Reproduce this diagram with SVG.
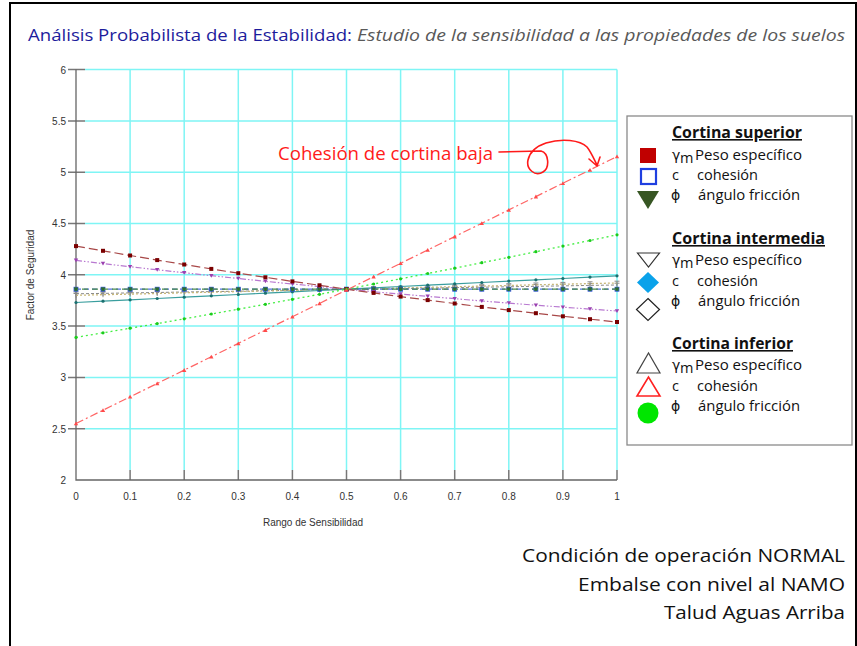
<svg xmlns="http://www.w3.org/2000/svg" width="857" height="646" viewBox="0 0 857 646">
<style>
.grid{stroke:#7ff5f5;stroke-width:1.5;fill:none}
.tick{stroke:#777;stroke-width:1.5}
.ax{stroke:#666;stroke-width:1.3;fill:none}
.tl{font-family:"Liberation Sans",Arial,sans-serif;font-size:10px;fill:#333}
.yl{text-anchor:end}
.xl{text-anchor:middle}
.cal{font-family:"Open Sans","Noto Sans",sans-serif}
.lg{font-family:"Open Sans","Noto Sans",sans-serif;font-size:14.5px;fill:#111}
.lh{font-family:"Open Sans","Noto Sans",sans-serif;font-size:16px;font-weight:bold;fill:#111;text-decoration:underline}
.sym{font-family:"DejaVu Sans","Noto Sans",sans-serif;font-size:14px;fill:#111}
.br{font-family:"Open Sans","Noto Sans",sans-serif;font-size:19px;fill:#111;text-anchor:end}
.s{fill:none}
</style>
<defs>
<marker id="mSqDR" markerWidth="6" markerHeight="6" refX="3" refY="3" markerUnits="userSpaceOnUse"><rect x="1" y="1" width="4" height="4" fill="#7a0000"/></marker>
<marker id="mTriP" markerWidth="6" markerHeight="6" refX="3" refY="3" markerUnits="userSpaceOnUse"><path d="M0.8,1.2 L5.2,1.2 L3,5 Z" fill="#9a40b0"/></marker>
<marker id="mSqB" markerWidth="6" markerHeight="6" refX="3" refY="3" markerUnits="userSpaceOnUse"><rect x="1" y="1" width="4" height="4" fill="#2a7a2a" stroke="#3050e0" stroke-width="0.8"/></marker>
<marker id="mTriG" markerWidth="6" markerHeight="6" refX="3" refY="3" markerUnits="userSpaceOnUse"><path d="M0.8,1.2 L5.2,1.2 L3,5 Z" fill="#2e6a2e"/></marker>
<marker id="mT" markerWidth="8" markerHeight="8" refX="4" refY="4" markerUnits="userSpaceOnUse"><path d="M1.5,2.2 L6.5,2.2 M4,2.2 L4,6.5" stroke="#888" stroke-width="1" fill="none"/></marker>
<marker id="mDotT" markerWidth="6" markerHeight="6" refX="3" refY="3" markerUnits="userSpaceOnUse"><circle cx="3" cy="3" r="1.6" fill="#1a7070"/></marker>
<marker id="mDotG" markerWidth="6" markerHeight="6" refX="3" refY="3" markerUnits="userSpaceOnUse"><circle cx="3" cy="3" r="1.6" fill="#1ccc1c"/></marker>
<marker id="mTriR" markerWidth="6" markerHeight="6" refX="3" refY="3" markerUnits="userSpaceOnUse"><path d="M0.8,4.8 L5.2,4.8 L3,1 Z" fill="#ff4a4a"/></marker>
</defs>
<rect x="0" y="0" width="857" height="646" fill="#fff"/>
<rect x="10" y="3" width="846" height="660" fill="none" stroke="#000" stroke-width="2"/>

<g id="title">
<text x="28" y="41" class="cal" font-size="17" fill="#1c1c9c" textLength="324" lengthAdjust="spacingAndGlyphs">Análisis Probabilista de la Estabilidad:</text>
<text x="357" y="41" class="cal" font-size="17" font-style="italic" fill="#595959" textLength="488" lengthAdjust="spacingAndGlyphs">Estudio de la sensibilidad a las propiedades  de los suelos</text>
</g>

<g id="grid">
<path class="grid" d="M85,69.6H617 M85,120.9H617 M85,172.2H617 M85,223.5H617 M85,274.8H617 M85,326.1H617 M85,377.4H617 M85,428.7H617"/>
<path class="grid" d="M130.1,69.6V470 M184.2,69.6V470 M238.3,69.6V470 M292.4,69.6V470 M346.5,69.6V470 M400.6,69.6V470 M454.7,69.6V470 M508.8,69.6V470 M562.9,69.6V470 M617,69.6V470"/>
</g>

<g id="axes">
<path class="tick" d="M68,69.6H85 M68,120.9H85 M68,172.2H85 M68,223.5H85 M68,274.8H85 M68,326.1H85 M68,377.4H85 M68,428.7H85"/>
<path class="tick" d="M130.1,470V480 M184.2,470V480 M238.3,470V480 M292.4,470V480 M346.5,470V480 M400.6,470V480 M454.7,470V480 M508.8,470V480 M562.9,470V480 M617,470V480"/>
<path class="ax" d="M76,69.6V480H617"/>
<g class="tl yl">
<text x="66" y="73.5">6</text><text x="66" y="124.8">5.5</text><text x="66" y="176.1">5</text><text x="66" y="227.4">4.5</text><text x="66" y="278.7">4</text><text x="66" y="330">3.5</text><text x="66" y="381.3">3</text><text x="66" y="432.6">2.5</text><text x="66" y="484">2</text>
</g>
<g class="tl xl">
<text x="76" y="500">0</text><text x="130.1" y="500">0.1</text><text x="184.2" y="500">0.2</text><text x="238.3" y="500">0.3</text><text x="292.4" y="500">0.4</text><text x="346.5" y="500">0.5</text><text x="400.6" y="500">0.6</text><text x="454.7" y="500">0.7</text><text x="508.8" y="500">0.8</text><text x="562.9" y="500">0.9</text><text x="617" y="500">1</text>
</g>
<text class="tl xl" x="313" y="526" font-size="9.5">Rango de Sensibilidad</text>
<text class="tl xl" x="0" y="0" font-size="9.5" transform="translate(34,275) rotate(-90)">Factor de Seguridad</text>
</g>

<g id="connectors">
<polyline class="s" stroke="#888" stroke-width="1" stroke-dasharray="3,2" marker-start="url(#mT)" marker-mid="url(#mT)" marker-end="url(#mT)" points="76,293.8 103,293.4 130.1,292.9 157.2,292.5 184.2,292 211.3,291.6 238.3,291.2 265.4,290.7 292.4,290.3 319.5,289.8 346.5,289.4 373.6,289 400.6,288.5 427.7,288.1 454.7,287.6 481.8,287.2 508.8,286.8 535.9,286.3 562.9,285.9 590,285.4 617,285"/>
<polyline class="s" stroke="#c8b878" stroke-width="1.3" stroke-dasharray="2,2" marker-start="url(#mT)" marker-mid="url(#mT)" marker-end="url(#mT)" points="76,295.3 103,294.7 130.1,294.1 157.2,293.5 184.2,292.8 211.3,292.2 238.3,291.6 265.4,291 292.4,290.4 319.5,289.8 346.5,289.2 373.6,288.5 400.6,287.9 427.7,287.3 454.7,286.7 481.8,286.1 508.8,285.5 535.9,284.8 562.9,284.2 590,283.6 617,283"/>
<polyline class="s" stroke="#3a9e9e" stroke-width="1.2" marker-start="url(#mDotT)" marker-mid="url(#mDotT)" marker-end="url(#mDotT)" points="76,302.5 103,301.2 130.1,299.8 157.2,298.5 184.2,297.2 211.3,295.8 238.3,294.5 265.4,293.2 292.4,291.8 319.5,290.5 346.5,289.2 373.6,287.8 400.6,286.5 427.7,285.2 454.7,283.8 481.8,282.5 508.8,281.1 535.9,279.8 562.9,278.5 590,277.1 617,275.8"/>
<polyline class="s" stroke="#5070e0" stroke-width="1.2" stroke-dasharray="5,3" marker-start="url(#mSqB)" marker-mid="url(#mSqB)" marker-end="url(#mSqB)" points="76,289.2 103,289.2 130.1,289.2 157.2,289.2 184.2,289.2 211.3,289.2 238.3,289.2 265.4,289.2 292.4,289.2 319.5,289.2 346.5,289.2 373.6,289.2 400.6,289.2 427.7,289.2 454.7,289.2 481.8,289.2 508.8,289.2 535.9,289.2 562.9,289.2 590,289.2 617,289.2"/>
<polyline class="s" stroke="#4a8a4a" stroke-width="1.2" stroke-dasharray="6,4" stroke-dashoffset="4" marker-start="url(#mTriG)" marker-mid="url(#mTriG)" marker-end="url(#mTriG)" points="76,289.2 103,289.2 130.1,289.2 157.2,289.2 184.2,289.2 211.3,289.2 238.3,289.2 265.4,289.2 292.4,289.2 319.5,289.2 346.5,289.2 373.6,289.2 400.6,289.2 427.7,289.2 454.7,289.2 481.8,289.2 508.8,289.2 535.9,289.2 562.9,289.2 590,289.2 617,289.2"/>
<polyline class="s" stroke="#b878d0" stroke-width="1.2" stroke-dasharray="6,2,1.5,2,1.5,2" marker-start="url(#mTriP)" marker-mid="url(#mTriP)" marker-end="url(#mTriP)" points="76,260.4 103,263.6 130.1,266.7 157.2,269.8 184.2,272.7 211.3,275.7 238.3,278.5 265.4,281.3 292.4,284 319.5,286.6 346.5,289.2 373.6,291.7 400.6,294.1 427.7,296.4 454.7,298.7 481.8,301 508.8,303.1 535.9,305.2 562.9,307.2 590,309.1 617,311"/>
<polyline class="s" stroke="#a84848" stroke-width="1.2" stroke-dasharray="9,4" marker-start="url(#mSqDR)" marker-mid="url(#mSqDR)" marker-end="url(#mSqDR)" points="76,246.1 103,250.8 130.1,255.5 157.2,260.1 184.2,264.5 211.3,268.9 238.3,273.2 265.4,277.3 292.4,281.4 319.5,285.3 346.5,289.2 373.6,292.9 400.6,296.6 427.7,300.1 454.7,303.5 481.8,306.9 508.8,310.1 535.9,313.2 562.9,316.3 590,319.2 617,322"/>
<polyline class="s" stroke="#44ee44" stroke-width="1.3" stroke-dasharray="2,3" marker-start="url(#mDotG)" marker-mid="url(#mDotG)" marker-end="url(#mDotG)" points="76,337.4 103,332.8 130.1,328.2 157.2,323.6 184.2,318.8 211.3,314 238.3,309.2 265.4,304.3 292.4,299.3 319.5,294.3 346.5,289.2 373.6,284 400.6,278.8 427.7,273.5 454.7,268.2 481.8,262.7 508.8,257.3 535.9,251.7 562.9,246.1 590,240.5 617,234.8"/>
<polyline class="s" stroke="#ff6464" stroke-width="1.2" stroke-dasharray="8,3,2,3" marker-start="url(#mTriR)" marker-mid="url(#mTriR)" marker-end="url(#mTriR)" points="76,423.5 103,410.2 130.1,396.8 157.2,383.5 184.2,370.1 211.3,356.8 238.3,343.4 265.4,330.1 292.4,316.7 319.5,303.4 346.5,290 373.6,276.7 400.6,263.3 427.7,250 454.7,236.6 481.8,223.3 508.8,209.9 535.9,196.6 562.9,183.2 590,169.9 617,156.5"/>
</g>

<g id="annotation">
<text x="278" y="160" class="cal" font-size="18.5" fill="#ff1a1a" textLength="215" lengthAdjust="spacingAndGlyphs">Cohesión de cortina baja</text>
<path d="M499,152 L541,151 C549,153 550,168 543,172 C535,177 526,169 528,160 C530,151 537,146 546,143 C562,138 580,140 587,147 C591,152 594,159 597,165 M589,159 L597,166 L600,157" fill="none" stroke="#ff1a1a" stroke-width="1.6" stroke-linecap="round" stroke-linejoin="round"/>
</g>

<g id="legend">
<rect x="627" y="116" width="225" height="329" fill="#fff" stroke="#8a8a8a" stroke-width="1.3"/>
<g id="leg-superior">
<text class="lh" x="672" y="138" textLength="130" lengthAdjust="spacingAndGlyphs">Cortina superior</text>
<rect x="640" y="148" width="16" height="15" fill="#c00000"/>
<rect x="641" y="169" width="15" height="15" fill="#fff" stroke="#1f3fe0" stroke-width="2.2"/>
<path d="M637,191 L659,191 L648,209 Z" fill="#375623"/>
<text class="sym" x="672" y="160">γ</text><text class="lg" x="680" y="163" font-size="10">m</text>
<text class="lg" x="695" y="160" textLength="107" lengthAdjust="spacingAndGlyphs">Peso específico</text>
<text class="lg" x="672" y="180">c</text><text class="lg" x="697" y="180" textLength="61" lengthAdjust="spacingAndGlyphs">cohesión</text>
<text class="sym" x="671" y="200">ϕ</text><text class="lg" x="698" y="200" textLength="102" lengthAdjust="spacingAndGlyphs">ángulo fricción</text>
</g>
<g id="leg-intermedia">
<text class="lh" x="672" y="244" textLength="153" lengthAdjust="spacingAndGlyphs">Cortina intermedia</text>
<path d="M637.5,253 L659.5,253 L648.5,267 Z" fill="#fff" stroke="#333" stroke-width="1.2"/>
<path d="M648,272 L659,282.5 L648,293 L637,282.5 Z" fill="#0aa2ea"/>
<path d="M648,298.5 L659.5,309.5 L648,320.5 L636.5,309.5 Z" fill="#fff" stroke="#222" stroke-width="1.2"/>
<text class="sym" x="672" y="265">γ</text><text class="lg" x="680" y="268" font-size="10">m</text>
<text class="lg" x="695" y="265" textLength="107" lengthAdjust="spacingAndGlyphs">Peso específico</text>
<text class="lg" x="672" y="286">c</text><text class="lg" x="697" y="286" textLength="61" lengthAdjust="spacingAndGlyphs">cohesión</text>
<text class="sym" x="671" y="306">ϕ</text><text class="lg" x="698" y="306" textLength="102" lengthAdjust="spacingAndGlyphs">ángulo fricción</text>
</g>
<g id="leg-inferior">
<text class="lh" x="672" y="349" textLength="121" lengthAdjust="spacingAndGlyphs">Cortina inferior</text>
<path d="M637,373 L660,373 L648.5,353 Z" fill="#fff" stroke="#444" stroke-width="1.2"/>
<path d="M637,396 L660,396 L648.5,377 Z" fill="#fff" stroke="#ff2020" stroke-width="1.6"/>
<circle cx="648" cy="413" r="10.5" fill="#00e600"/>
<text class="sym" x="672" y="370">γ</text><text class="lg" x="680" y="373" font-size="10">m</text>
<text class="lg" x="695" y="370" textLength="107" lengthAdjust="spacingAndGlyphs">Peso específico</text>
<text class="lg" x="672" y="391">c</text><text class="lg" x="697" y="391" textLength="61" lengthAdjust="spacingAndGlyphs">cohesión</text>
<text class="sym" x="671" y="411">ϕ</text><text class="lg" x="698" y="411" textLength="102" lengthAdjust="spacingAndGlyphs">ángulo fricción</text>
</g>
</g>

<g id="conditions">
<text class="br" x="845" y="562" textLength="323" lengthAdjust="spacingAndGlyphs">Condición de operación NORMAL</text>
<text class="br" x="845" y="591" textLength="267" lengthAdjust="spacingAndGlyphs">Embalse con nivel al NAMO</text>
<text class="br" x="845" y="619" textLength="181" lengthAdjust="spacingAndGlyphs">Talud Aguas Arriba</text>
</g>
</svg>
